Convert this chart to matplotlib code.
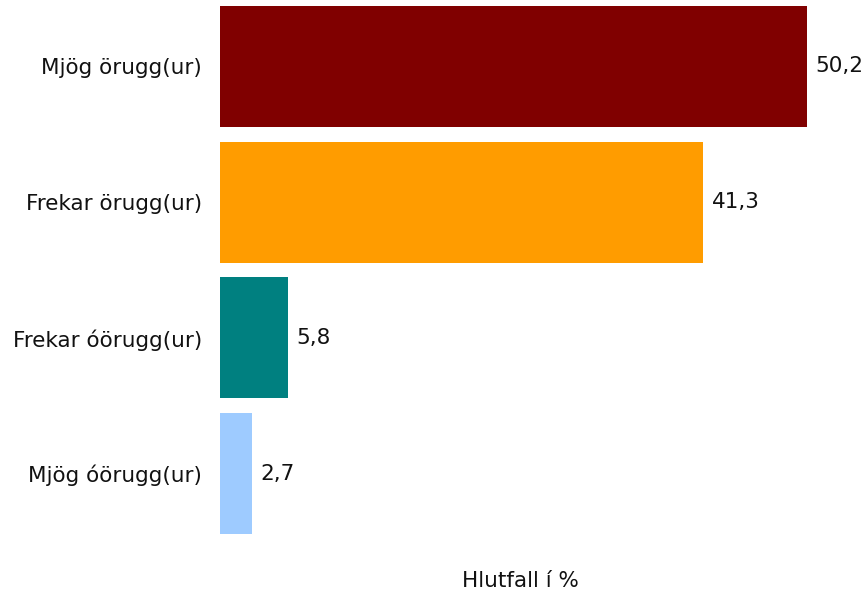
import matplotlib
matplotlib.use("Agg")
import matplotlib.pyplot as plt

categories = ["Mjög örugg(ur)", "Frekar örugg(ur)", "Frekar óörugg(ur)", "Mjög óörugg(ur)"]
values = [50.2, 41.3, 5.8, 2.7]
value_labels = ["50,2", "41,3", "5,8", "2,7"]
colors = ["#800000", "#FF9C00", "#008080", "#9ECBFF"]
xlabel = "Hlutfall í %"

plt.rcParams['font.family'] = ['DejaVu Sans']
fs = 15.5
fig = plt.figure(figsize=(8.67, 5.93), dpi=100)
ax = fig.add_axes([220/867, 48/593, 600/867, 545/593])
y = list(range(len(categories)))
ax.barh(y, values, height=0.89, color=colors)
ax.set_xlim(0, 51.33)
ax.set_ylim(3.527, -0.490)
ax.set_yticks(y)
ax.set_yticklabels(categories, fontsize=fs, color='#111111')
ax.tick_params(axis='y', length=0, pad=13)
ax.set_xticks([])
for s in ax.spines.values():
    s.set_visible(False)
for yi, v, lab in zip(y, values, value_labels):
    ax.annotate(lab, (v, yi), xytext=(9, 0), textcoords='offset pixels',
                va='center', ha='left', fontsize=fs, color='#111111')
fig.text(520/867, 1 - 581/593, xlabel, ha='center', va='center', fontsize=fs, color='#111111')
fig.savefig("out.png", dpi=100)
